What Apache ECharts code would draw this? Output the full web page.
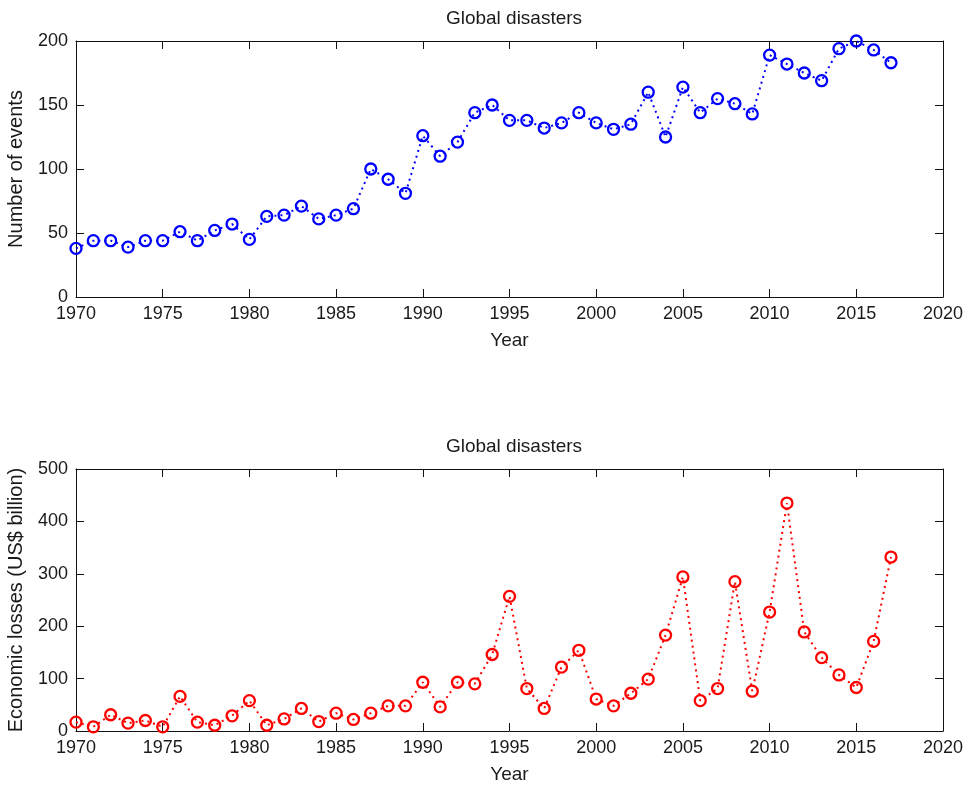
<!DOCTYPE html>
<html>
<head>
<meta charset="utf-8">
<script src="https://cdn.jsdelivr.net/npm/echarts@6/dist/echarts.min.js"></script>
<style>
html,body{margin:0;padding:0;background:#fff;}
#chart{width:970px;height:786px;}
</style>
</head>
<body>
<div id="chart"></div>
<script>
const years = [1970,1971,1972,1973,1974,1975,1976,1977,1978,1979,
               1980,1981,1982,1983,1984,1985,1986,1987,1988,1989,
               1990,1991,1992,1993,1994,1995,1996,1997,1998,1999,
               2000,2001,2002,2003,2004,2005,2006,2007,2008,2009,
               2010,2011,2012,2013,2014,2015,2016,2017];
const events = [38,44,44,39,44,44,51,44,52,57,
                45,63,64,71,61,64,69,100,92,81,
                126,110,121,144,150,138,138,132,136,144,
                136,131,135,160,125,164,144,155,151,143,
                189,182,175,169,194,200,193,183];
const losses = [17,8,31,15,20,8,66,17,11,29,
                58,11,23,43,18,34,22,34,48,48,
                93,46,93,90,146,257,81,43,122,154,
                61,48,72,99,183,294,58,81,285,76,
                227,435,189,140,107,83,171,332];
const xTicks = [1970,1975,1980,1985,1990,1995,2000,2005,2010,2015,2020];
const eventTicks = [0,50,100,150,200];
const lossTicks = [0,100,200,300,400,500];
const titleText = 'Global disasters';
const xName = 'Year';
const yName1 = 'Number of events';
const yName2 = 'Economic losses (US$ billion)';

const FONT = "'Liberation Sans',Arial,sans-serif";
const TXT = '#1a1a1a';
const AX = '#111';

function xAxes(gi) {
  const base = {
    type: 'value', gridIndex: gi,
    min: xTicks[0], max: xTicks[xTicks.length - 1], interval: xTicks[1] - xTicks[0],
    axisLine: {show: true, onZero: false, lineStyle: {color: AX, width: 1}},
    axisTick: {show: true, inside: true, length: 8, lineStyle: {color: AX}},
    splitLine: {show: false}
  };
  return [
    Object.assign({}, base, {
      position: 'bottom',
      axisLabel: {show: true, color: TXT, fontFamily: FONT, fontSize: 18, margin: 8,
                  formatter: v => String(v)},
      name: xName, nameLocation: 'middle', nameGap: 34,
      nameTextStyle: {color: TXT, fontFamily: FONT, fontSize: 19}
    }),
    Object.assign({}, base, {position: 'top', axisLabel: {show: false}})
  ];
}
function yAxes(gi, ticks, name) {
  const base = {
    type: 'value', gridIndex: gi,
    min: ticks[0], max: ticks[ticks.length - 1], interval: ticks[1] - ticks[0],
    axisLine: {show: true, onZero: false, lineStyle: {color: AX, width: 1}},
    axisTick: {show: true, inside: true, length: 8, lineStyle: {color: AX}},
    splitLine: {show: false}
  };
  return [
    Object.assign({}, base, {
      position: 'left',
      axisLabel: {show: true, color: TXT, fontFamily: FONT, fontSize: 18, margin: 8},
      name: name, nameLocation: 'middle', nameGap: 50,
      nameTextStyle: {color: TXT, fontFamily: FONT, fontSize: 20}
    }),
    Object.assign({}, base, {position: 'right', axisLabel: {show: false}})
  ];
}
function series(xi, yi, vals, color) {
  return {
    type: 'line', xAxisIndex: xi, yAxisIndex: yi,
    data: years.map((y, i) => [y, vals[i]]),
    symbol: 'circle', symbolSize: 11, showSymbol: true, clip: false,
    lineStyle: {color: color, width: 2, type: [2, 4]},
    itemStyle: {color: 'rgba(255,255,255,0)', borderColor: color, borderWidth: 2.3},
    emphasis: {disabled: true},
    animation: false
  };
}

const chart = echarts.init(document.getElementById('chart'), null, {renderer: 'canvas'});
chart.setOption({
  backgroundColor: '#fff',
  animation: false,
  title: [
    {text: titleText, left: 509, top: 4, textAlign: 'center',
     textStyle: {color: TXT, fontFamily: FONT, fontSize: 19, fontWeight: 'normal'}},
    {text: titleText, left: 509, top: 432, textAlign: 'center',
     textStyle: {color: TXT, fontFamily: FONT, fontSize: 19, fontWeight: 'normal'}}
  ],
  grid: [
    {left: 76, right: 27, top: 41, height: 256, outerBoundsMode: 'none', containLabel: false},
    {left: 76, right: 27, top: 469, height: 262, outerBoundsMode: 'none', containLabel: false}
  ],
  xAxis: [].concat(xAxes(0), xAxes(1)),
  yAxis: [].concat(yAxes(0, eventTicks, yName1), yAxes(1, lossTicks, yName2)),
  series: [
    series(0, 0, events, '#0000ff'),
    series(2, 2, losses, '#ff0000')
  ]
});
</script>
</body>
</html>
